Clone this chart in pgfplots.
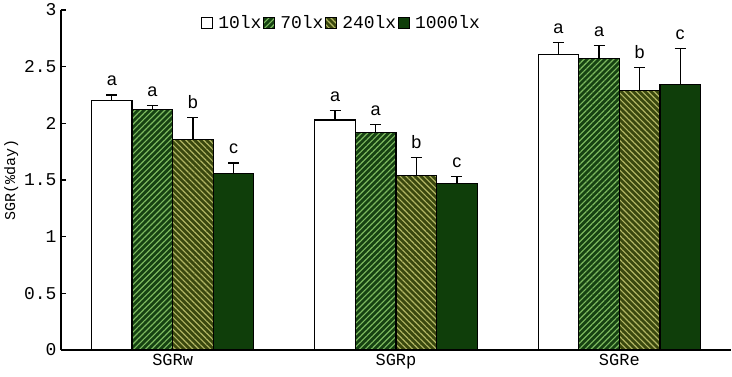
\documentclass[border=0pt]{standalone}
\usepackage{fontspec}
\setmainfont{Liberation Mono}
\newfontfamily\lettersf{Liberation Sans}
\usepackage{pgfplots}
\usepackage{pgfplotstable}
\pgfplotsset{compat=1.18}
\usetikzlibrary{patterns.meta}
\definecolor{gbg}{RGB}{22,66,18}
\definecolor{gln}{RGB}{125,185,95}
\definecolor{obg}{RGB}{58,72,14}
\definecolor{oln}{RGB}{178,182,100}
\definecolor{dkg}{RGB}{15,62,10}

\pgfplotstableread{
x y e
0 2.20 0.05
1 2.03 0.08
2 2.61 0.10
}\tA
\pgfplotstableread{
x y e
0 2.12 0.04
1 1.92 0.07
2 2.57 0.12
}\tB
\pgfplotstableread{
x y e
0 1.86 0.19
1 1.54 0.16
2 2.29 0.20
}\tC
\pgfplotstableread{
x y e
0 1.56 0.09
1 1.47 0.06
2 2.34 0.32
}\tD

\begin{document}
\begin{tikzpicture}
\useasboundingbox (-61pt,-26pt) rectangle (671pt,350pt);
\begin{axis}[
  at={(0,0)}, anchor=south west,
  scale only axis, width=670pt, height=340pt,
  xmin=-0.5, xmax=2.5, ymin=0, ymax=3,
  ybar=0pt, bar width=40.6pt,
  axis x line*=bottom, axis y line*=left,
  axis line style={-, line width=1.2pt},
  tick align=inside,
  xtick={0,1,2}, xticklabels={SGRw,SGRp,SGRe},
  x tick style={draw=none},
  extra x ticks={0.5,1.5,2.5}, extra x tick labels={},
  extra x tick style={tick style={draw=black, line width=1.2pt}},
  ytick={0,0.5,1,1.5,2,2.5,3},
  y tick style={line width=1.2pt, black}, major tick length=5pt,
  /pgf/number format/assume math mode=true,
  xticklabel style={font=\fontsize{17}{19}\selectfont, yshift=-1pt},
  yticklabel style={font=\fontsize{18}{20}\selectfont, xshift=-1pt},
  ylabel={SGR(\%day)}, ylabel style={font=\fontsize{15}{17}\selectfont, yshift=-1pt},
  legend style={at={(0.633,0.962)}, anchor=east, draw=none, fill=none,
    legend columns=-1, font=\fontsize{18}{20}\selectfont,
    /tikz/every odd column/.append style={column sep=3pt}},
  legend image code/.code={\draw[#1, line width=0.8pt] (0pt,-5.5pt) rectangle (11pt,5.5pt);},
  error bars/y dir=plus, error bars/y explicit,
  error bars/error bar style={black, line width=1.2pt},
  error bars/error mark options={black, line width=1.2pt, mark size=5.5pt, rotate=90},
  visualization depends on={\thisrow{e} \as \err},
  every node near coord/.append style={anchor=south, font=\lettersf\fontsize{18}{20}\selectfont, yshift=\err*113.33pt+5pt},
]
\addplot[draw=black, line width=1.2pt, fill=white, nodes near coords={a}] table[x=x,y=y,y error=e]{\tA};
\addplot[draw=black, line width=1.2pt, fill=gbg, postaction={pattern={Lines[angle=45,distance=4.2pt,line width=1.15pt]}, pattern color=gln}, nodes near coords={a}] table[x=x,y=y,y error=e]{\tB};
\addplot[draw=black, line width=1.2pt, fill=obg, postaction={pattern={Lines[angle=-45,distance=4.2pt,line width=1.15pt]}, pattern color=oln}, nodes near coords={b}] table[x=x,y=y,y error=e]{\tC};
\addplot[draw=black, line width=1.2pt, fill=dkg, nodes near coords={c}] table[x=x,y=y,y error=e]{\tD};
\legend{10lx,70lx,240lx,1000lx}
\end{axis}
\end{tikzpicture}
\end{document}
